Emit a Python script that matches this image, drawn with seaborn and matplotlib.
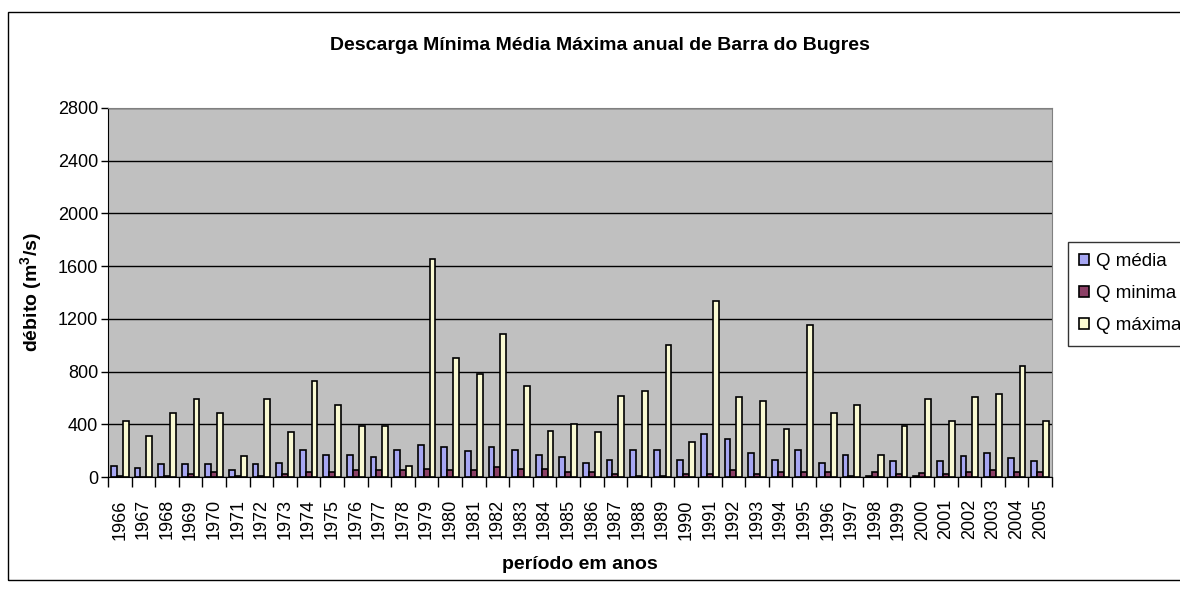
import numpy as np
import pandas as pd
import seaborn as sns
import matplotlib.pyplot as plt
from matplotlib.patches import Rectangle

# Values (m3/s)
years = list(range(1966, 2006))
q_media = [84, 72, 97, 97, 97, 50, 97, 109, 206, 169,
           169, 154, 206, 241, 229, 196, 229, 206, 169, 154,
           109, 132, 206, 206, 132, 328, 291, 184, 132, 206,
           109, 169, 10, 122, 10, 122, 157, 184, 144, 122]
q_minima = [5, 3, 5, 25, 37, 5, 5, 25, 37, 37,
            50, 52, 52, 62, 52, 52, 75, 62, 62, 37,
            37, 25, 5, 5, 25, 25, 50, 25, 37, 37,
            37, 5, 37, 25, 27, 25, 37, 50, 37, 37]
q_maxima = [422, 313, 482, 591, 482, 157, 591, 338, 728, 544,
            388, 388, 84, 1654, 903, 781, 1085, 688, 348, 400,
            338, 616, 651, 1001, 266, 1335, 606, 579, 363, 1153,
            482, 544, 169, 388, 591, 422, 606, 629, 842, 422]
series_names = ["Q média", "Q minima", "Q máxima"]
colors = ["#9999FF", "#993366", "#FFFFCC"]

rows = []
for name, vals in zip(series_names, [q_media, q_minima, q_maxima]):
    for y, v in zip(years, vals):
        rows.append({"ano": str(y), "serie": name, "valor": v})
df = pd.DataFrame(rows)

sns.set_style("white")
plt.rcParams['font.family'] = ['Liberation Sans', 'DejaVu Sans']
plt.rcParams['mathtext.default'] = 'regular'
for key in ['text.color', 'axes.labelcolor', 'xtick.color', 'ytick.color']:
    plt.rcParams[key] = 'black'

fig = plt.figure(figsize=(11.8, 5.89), dpi=100)
ax = fig.add_axes([108 / 1180, 1 - 477 / 589, 944 / 1180, 369 / 589])

sns.barplot(data=df, x="ano", y="valor", hue="serie", palette=colors,
            width=0.75, edgecolor="black", linewidth=1.2, ax=ax, legend=True)

ax.set_facecolor("#C0C0C0")
ax.set_ylim(0, 2800)
ax.set_yticks(range(0, 2801, 400))
ax.set_xlim(-0.5, len(years) - 0.5)
ax.set_xticks(np.arange(len(years) + 1) - 0.5, minor=True)
ax.yaxis.grid(True, color="black", linewidth=1.0)
ax.set_axisbelow(True)
for s in ax.spines.values():
    s.set_color("#808080")
ax.spines["left"].set_color("black")
ax.spines["bottom"].set_color("black")
ax.tick_params(axis="x", which="major", rotation=90, labelsize=13, length=0, pad=16)
ax.tick_params(axis="x", which="minor", length=7, width=1, color="black",
               direction="out", bottom=True)
ax.tick_params(axis="y", labelsize=13, length=5, width=1, color="black",
               direction="out", left=True, pad=2)
ax.set_xlabel("período em anos", fontsize=14, fontweight="bold", labelpad=12)
ax.set_ylabel("débito (m$^3$/s)", fontsize=14, fontweight="bold", labelpad=10)

fig.text(600 / 1180, 1 - 45 / 589, "Descarga Mínima Média Máxima anual de Barra do Bugres",
         ha="center", va="center", fontsize=14, fontweight="bold")

leg = ax.legend(loc="upper left", bbox_to_anchor=(1068 / 1180, 1 - 242 / 589),
                bbox_transform=fig.transFigure, frameon=True, fancybox=False,
                fontsize=13.5, handlelength=0.5, handleheight=0.5, handletextpad=0.4,
                labelspacing=0.8, borderpad=0.6, borderaxespad=0, title=None)
leg.get_frame().set_edgecolor("black")
leg.get_frame().set_linewidth(1.0)

fig.patches.append(Rectangle((8 / 1180, 1 - 580 / 589), 1.2, 568 / 589,
                             transform=fig.transFigure, fill=False,
                             edgecolor="black", linewidth=1.0))

fig.savefig("out.png", dpi=100)
